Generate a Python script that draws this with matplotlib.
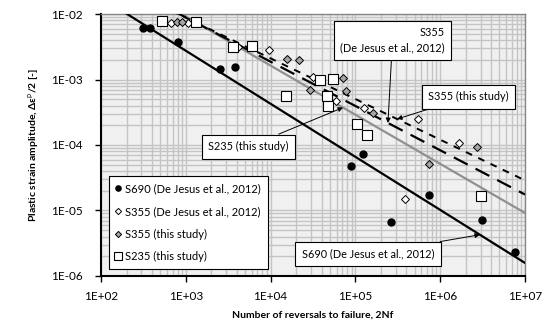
import numpy as np
import matplotlib
matplotlib.use("Agg")
import matplotlib.pyplot as plt
from matplotlib.ticker import LogLocator, NullFormatter

plt.rcParams.update({
    "font.family": "Lato", "font.size": 8,
    "mathtext.fontset": "custom", "mathtext.rm": "Lato", "mathtext.bf": "Lato:bold",
})

# S690, De Jesus et al. (2012)
s690_n = [312, 379, 809, 2530, 3800, 88700, 123000, 263000, 738000, 3.11e6, 7.62e6]
s690_e = [6.1e-3, 6.1e-3, 3.74e-3, 1.45e-3, 1.55e-3, 4.78e-5, 7.3e-5, 6.67e-6, 1.73e-5, 7.16e-6, 2.32e-6]

# S355, De Jesus et al. (2012)
s355dj_n = [669, 1061, 4130, 9570, 31600, 59000, 126000, 547000, 1.67e6, 385000]
s355dj_e = [7.29e-3, 7.29e-3, 3.13e-3, 2.82e-3, 1.09e-3, 4.70e-4, 3.67e-4, 2.49e-4, 1.07e-4, 1.50e-5]

# S355, this study
s355ts_n = [787, 902, 15600, 21600, 71400, 29100, 77500, 161000, 2.72e6, 738000]
s355ts_e = [7.55e-3, 7.55e-3, 2.06e-3, 1.99e-3, 1.05e-3, 6.92e-4, 6.67e-4, 3.08e-4, 9.31e-5, 5.13e-5]

# S235, this study
s235_n = [524, 1320, 3600, 6040, 15200, 38300, 54400, 46300, 47500, 104500, 137000, 3.03e6]
s235_e = [7.82e-3, 7.55e-3, 3.13e-3, 3.25e-3, 5.60e-4, 9.8e-4, 1.02e-3, 5.60e-4, 3.94e-4, 2.09e-4, 1.42e-4, 1.66e-5]

# Coffin-Manson fits: eps_p/2 = ef * (2Nf)^c
fit_ef = {"S690": 0.740, "S355dj": 0.946, "S355ts": 0.641, "S235": 1.63}
fit_c = {"S690": -0.810, "S355dj": -0.676, "S355ts": -0.621, "S235": -0.750}


def cm(key, n):
    return fit_ef[key] * np.asarray(n, dtype=float) ** fit_c[key]


fig = plt.figure(figsize=(5.45, 3.25), dpi=100)
ax = fig.add_axes([0.1853, 0.1508, 0.7780, 0.8061])
ax.set_facecolor("#f0f0f0")

nn = np.logspace(2, 7, 200)
ax.plot(nn, cm("S690", nn), color="black", lw=1.6, zorder=3)
ax.plot(nn, cm("S235", nn), color="#909090", lw=1.6, zorder=3)
ax.plot(nn, cm("S355dj", nn), color="black", lw=1.6, ls=(0, (7, 4)), zorder=3)
ax.plot(nn, cm("S355ts", nn), color="black", lw=1.4, ls=(0, (3.5, 3.5)), zorder=3)

ax.plot(s690_n, s690_e, "o", color="black", ms=5, ls="none", zorder=5,
        label="S690 (De Jesus et al., 2012)")
ax.plot(s355dj_n, s355dj_e, "D", mfc="white", mec="black", mew=0.7, ms=4.2, ls="none", zorder=5,
        label="S355 (De Jesus et al., 2012)")
ax.plot(s355ts_n, s355ts_e, "D", mfc="#a6a6a6", mec="black", mew=0.7, ms=4.2, ls="none", zorder=5,
        label="S355 (this study)")
ax.plot(s235_n, s235_e, "s", mfc="white", mec="black", mew=0.8, ms=7, ls="none", zorder=5,
        label="S235 (this study)")

ax.set_xscale("log")
ax.set_yscale("log")
ax.set_xlim(1e2, 1e7)
ax.set_ylim(1e-6, 1e-2)

ax.xaxis.set_minor_locator(LogLocator(base=10, subs=np.arange(2, 10), numticks=20))
ax.yaxis.set_minor_locator(LogLocator(base=10, subs=np.arange(2, 10), numticks=20))
ax.xaxis.set_minor_formatter(NullFormatter())
ax.yaxis.set_minor_formatter(NullFormatter())
ax.set_xticks([1e2, 1e3, 1e4, 1e5, 1e6, 1e7])
ax.set_xticklabels(["1E+02", "1E+03", "1E+04", "1E+05", "1E+06", "1E+07"])
ax.set_yticks([1e-6, 1e-5, 1e-4, 1e-3, 1e-2])
ax.set_yticklabels(["1E-06", "1E-05", "1E-04", "1E-03", "1E-02"])

ax.grid(which="both", color="#c4c4c4", lw=1.0, zorder=0)
ax.set_axisbelow(True)
ax.tick_params(which="major", direction="out", length=4, width=1, labelsize=8.5)
ax.tick_params(axis="y", which="major", pad=9)
ax.tick_params(axis="x", which="major", pad=7)
ax.tick_params(which="minor", length=0)
for side in ("left", "bottom"):
    ax.spines[side].set_color("black")
    ax.spines[side].set_linewidth(1.5)
for side in ("top", "right"):
    ax.spines[side].set_color("#868686")
    ax.spines[side].set_linewidth(1.0)

ax.set_xlabel("Number of reversals to failure, 2Nf", fontsize=7.5, fontweight="bold", labelpad=6)
ax.set_ylabel(r"Plastic strain amplitude, $\mathbf{\Delta\varepsilon}^{\mathrm{p}}$/2 [-]",
              fontsize=7.5, fontweight="bold", labelpad=7)

box = dict(boxstyle="square,pad=0.6", fc="white", ec="black", lw=0.8)
arr = dict(arrowstyle="-|>", color="black", lw=0.7, mutation_scale=7, shrinkA=0, shrinkB=0)

n_dj = 2.42e5
ax.annotate("S355\n(De Jesus et al., 2012)", xy=(n_dj, cm("S355dj", n_dj)),
            xytext=(0.6875, 0.899), textcoords="axes fraction", ha="center", va="center",
            multialignment="right", fontsize=7.8, linespacing=1.5, bbox=box, arrowprops=arr, zorder=6)
n_ts = 3.1e5
ax.annotate("S355 (this study)", xy=(n_ts, cm("S355ts", n_ts)),
            xytext=(0.8667, 0.685), textcoords="axes fraction", ha="center", va="center",
            fontsize=7.8, bbox=box, arrowprops=arr, zorder=6)
n_235 = 7.15e4
ax.annotate("S235 (this study)", xy=(n_235, cm("S235", n_235)),
            xytext=(0.348, 0.494), textcoords="axes fraction", ha="center", va="center",
            fontsize=7.8, bbox=box, arrowprops=arr, zorder=6)
n_690 = 2.94e6
ax.annotate("S690 (De Jesus et al., 2012)", xy=(n_690, cm("S690", n_690)),
            xytext=(0.6297, 0.084), textcoords="axes fraction", ha="center", va="center",
            fontsize=7.8, bbox=box, arrowprops=arr, zorder=6)

leg = ax.legend(loc="lower left", bbox_to_anchor=(0.019, 0.027), fontsize=8,
                frameon=True, fancybox=False, framealpha=1, edgecolor="black",
                markerscale=0.75, handlelength=0.5, handletextpad=0.35, labelspacing=1.05,
                borderpad=0.6, borderaxespad=0)
leg.get_frame().set_linewidth(0.8)
leg.set_zorder(7)

fig.savefig("out.png", dpi=100)
